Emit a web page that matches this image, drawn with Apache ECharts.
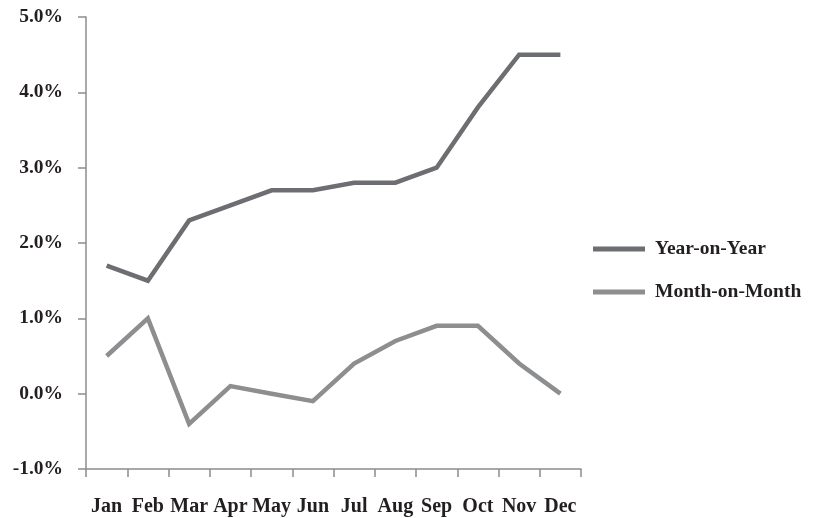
<!DOCTYPE html>
<html>
<head>
<meta charset="utf-8">
<script src="https://cdn.jsdelivr.net/npm/echarts@6/dist/echarts.min.js"></script>
<style>
  html, body { margin: 0; padding: 0; background: #fff; }
  #chart { width: 815px; height: 518px; }
</style>
</head>
<body>
<div id="chart"></div>
<script>
// Monthly price index changes, in percent
var months = ['Jan', 'Feb', 'Mar', 'Apr', 'May', 'Jun', 'Jul', 'Aug', 'Sep', 'Oct', 'Nov', 'Dec'];
var yearOnYear = [1.7, 1.5, 2.3, 2.5, 2.7, 2.7, 2.8, 2.8, 3.0, 3.8, 4.5, 4.5];
var monthOnMonth = [0.5, 1.0, -0.4, 0.1, 0.0, -0.1, 0.4, 0.7, 0.9, 0.9, 0.4, 0.0];
var seriesNames = ['Year-on-Year', 'Month-on-Month'];

var FONT = '"Liberation Serif", "Times New Roman", serif';
var TEXT = '#231f20';
var AXIS = '#8c8c8c';

var chart = echarts.init(document.getElementById('chart'));
chart.setOption({
  backgroundColor: '#ffffff',
  animation: false,
  grid: { left: 86, right: 234, top: 17, bottom: 49, containLabel: false },
  legend: {
    orient: 'vertical',
    left: 588,
    top: 234,
    itemWidth: 52,
    itemHeight: 5,
    itemGap: 23,
    icon: 'rect',
    textStyle: { fontFamily: FONT, fontWeight: 'bold', fontSize: 19.5, color: TEXT, padding: [0, 0, 0, 5] },
    data: seriesNames
  },
  xAxis: {
    type: 'category',
    data: months,
    boundaryGap: true,
    axisLine: { onZero: false, lineStyle: { color: AXIS, width: 1.5 } },
    axisTick: { show: true, length: 8, inside: false, lineStyle: { color: AXIS, width: 1.5 } },
    axisLabel: { fontFamily: FONT, fontWeight: 'bold', fontSize: 20, color: TEXT, margin: 28, interval: 0 }
  },
  yAxis: {
    type: 'value',
    min: -1,
    max: 5,
    interval: 1,
    splitLine: { show: false },
    axisLine: { show: true, lineStyle: { color: AXIS, width: 1.5 } },
    axisTick: { show: true, length: 8, lineStyle: { color: AXIS, width: 1.5 } },
    axisLabel: {
      fontFamily: FONT, fontWeight: 'bold', fontSize: 19.5, color: TEXT, margin: 23,
      formatter: function (v) { return v.toFixed(1) + '%'; }
    }
  },
  series: [
    {
      name: seriesNames[0],
      type: 'line',
      data: yearOnYear,
      symbol: 'none',
      lineStyle: { color: '#6d6e71', width: 4.5, join: 'miter' },
      itemStyle: { color: '#6d6e71' }
    },
    {
      name: seriesNames[1],
      type: 'line',
      data: monthOnMonth,
      symbol: 'none',
      lineStyle: { color: '#8d8e90', width: 4.5, join: 'miter' },
      itemStyle: { color: '#8d8e90' }
    }
  ]
});
</script>
</body>
</html>
